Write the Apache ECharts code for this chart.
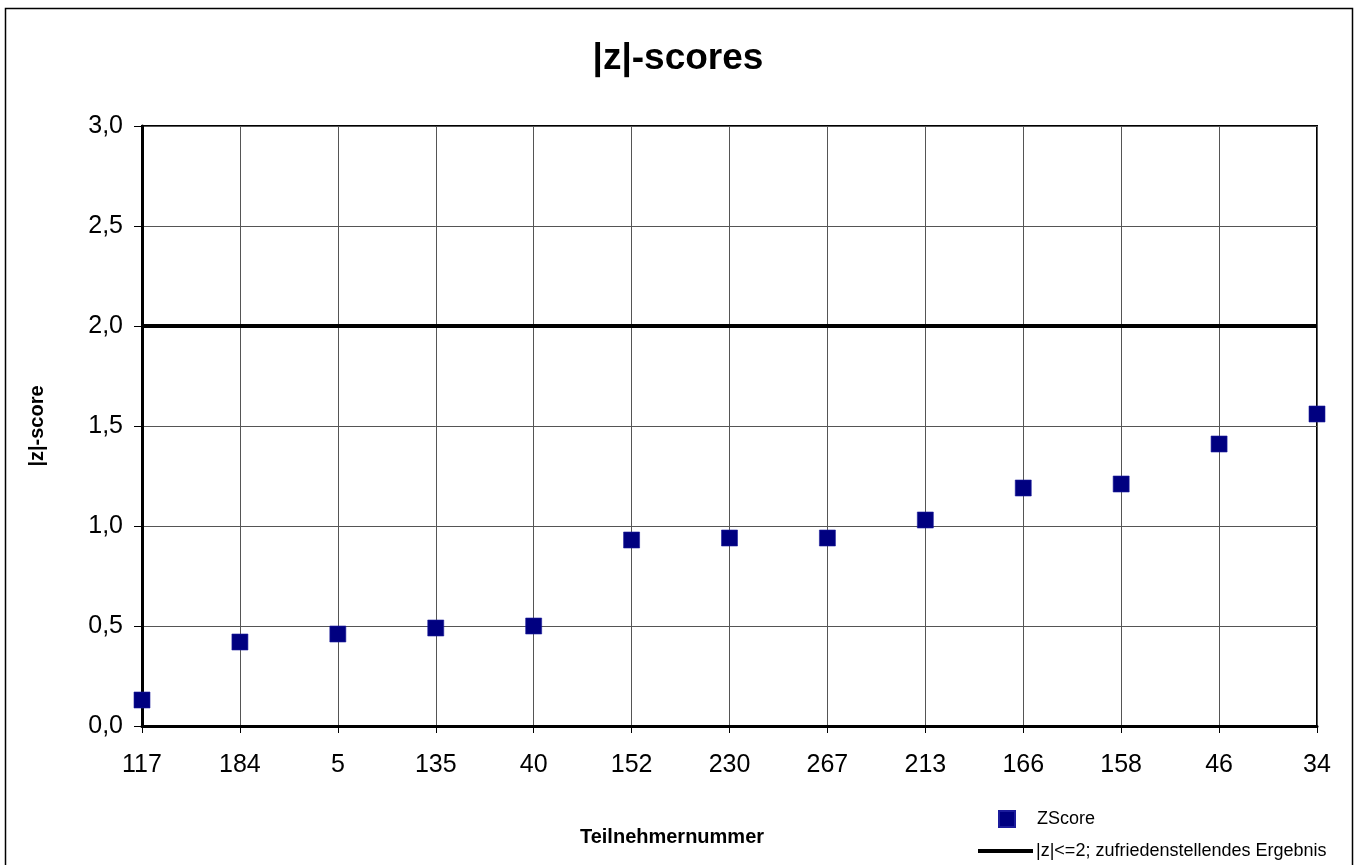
<!DOCTYPE html>
<html>
<head>
<meta charset="utf-8">
<script src="https://cdn.jsdelivr.net/npm/echarts@6/dist/echarts.min.js"></script>
<style>
html,body{margin:0;padding:0;background:#fff;}
#chart{width:1356px;height:865px;}
</style>
</head>
<body>
<div id="chart"></div>
<script>
const categories = ['117','184','5','135','40','152','230','267','213','166','158','46','34'];
const zScores = [0.13, 0.42, 0.46, 0.49, 0.50, 0.93, 0.94, 0.94, 1.03, 1.19, 1.21, 1.41, 1.56];
const limitValues = [2,2,2,2,2,2,2,2,2,2,2,2,2];
const titleText = '|z|-scores';
const xName = 'Teilnehmernummer';
const yName = '|z|-score';
const seriesNames = ['ZScore', '|z|<=2; zufriedenstellendes Ergebnis'];

const font = 'Liberation Sans, Arial, sans-serif';
const chart = echarts.init(document.getElementById('chart'));
chart.setOption({
  animation: false,
  backgroundColor: '#fff',
  title: {
    text: titleText, left: 'center', top: 35,
    textStyle: {fontFamily: font, fontSize: 37, fontWeight: 'bold', color: '#000'}
  },
  graphic: [{
    type: 'rect', shape: {x: 5.5, y: 8.5, width: 1347, height: 900},
    style: {fill: 'none', stroke: '#000', lineWidth: 1.5}, silent: true
  }],
  legend: [{
    data: [{name: seriesNames[0], icon: 'rect'}],
    orient: 'vertical', left: 993, top: 805,
    itemWidth: 16, itemHeight: 16,
    textStyle: {fontFamily: font, fontSize: 18, color: '#000', padding: [0,0,0,17]}
  }, {
    data: [{name: seriesNames[1], icon: 'rect'}],
    orient: 'vertical', left: 973, top: 837,
    itemWidth: 55, itemHeight: 4, itemGap: 0,
    textStyle: {fontFamily: font, fontSize: 18, color: '#000', padding: [0,0,0,-2]}
  }],
  grid: {
    left: 142, right: 39, top: 126, bottom: 139,
    show: true, borderColor: '#000', borderWidth: 2
  },
  xAxis: {
    type: 'category', data: categories, boundaryGap: false,
    name: xName, nameLocation: 'middle', nameGap: 101,
    nameTextStyle: {fontFamily: font, fontSize: 20, fontWeight: 'bold', color: '#000', padding: [0, 115, 0, 0]},
    axisLine: {lineStyle: {color: '#000', width: 3}},
    axisTick: {show: true, length: 7, interval: 0, lineStyle: {color: '#000', width: 1}},
    axisLabel: {fontFamily: font, fontSize: 25, color: '#000', margin: 27, interval: 0},
    splitLine: {show: true, interval: 0, lineStyle: {color: '#555', width: 1}}
  },
  yAxis: {
    type: 'value', min: 0, max: 3, interval: 0.5,
    name: yName, nameLocation: 'middle', nameGap: 95,
    nameTextStyle: {fontFamily: font, fontSize: 20, fontWeight: 'bold', color: '#000'},
    axisLine: {show: true, lineStyle: {color: '#000', width: 3}},
    axisTick: {show: true, length: 8, lineStyle: {color: '#000', width: 1}},
    axisLabel: {fontFamily: font, fontSize: 25, color: '#000', margin: 19,
      formatter: v => v.toFixed(1).replace('.', ',')},
    splitLine: {show: true, lineStyle: {color: '#555', width: 1}}
  },
  series: [{
    name: seriesNames[0], type: 'scatter', data: zScores,
    symbol: 'rect', symbolSize: 16,
    itemStyle: {color: '#000080', opacity: 1, borderColor: '#1c1c9c', borderWidth: 0.6},
    z: 5
  }, {
    name: seriesNames[1], type: 'line', data: limitValues,
    symbol: 'none', lineStyle: {color: '#000', width: 4},
    itemStyle: {color: '#000'}, z: 4
  }]
});
</script>
</body>
</html>
